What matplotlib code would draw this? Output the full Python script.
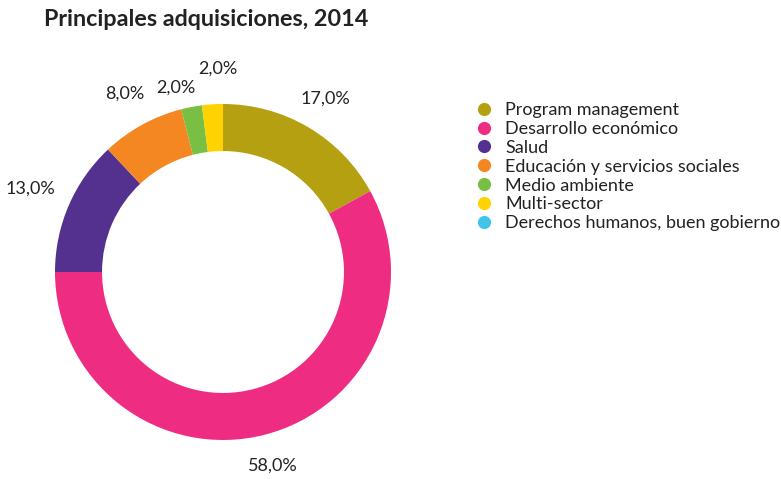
import numpy as np
import matplotlib.pyplot as plt
from matplotlib.lines import Line2D

# data
sectores = ["Program management", "Desarrollo económico", "Salud",
            "Educación y servicios sociales", "Medio ambiente", "Multi-sector",
            "Derechos humanos, buen gobierno"]
porcentajes = [17.0, 58.0, 13.0, 8.0, 2.0, 2.0, 0.0]
colores = ["#B5A012", "#EE2D82", "#55318F", "#F58722", "#79BF43", "#FFD200", "#3FC5E8"]

plt.rcParams['font.family'] = ['Lato', 'DejaVu Sans']

W, H = 781, 479
fig = plt.figure(figsize=(W / 100, H / 100), dpi=100)

# donut center ~(223, 272) px, radius ~168 px
cx, cy, r = 223, 272, 168
ax = fig.add_axes([(cx - r) / W, (H - cy - r) / H, 2 * r / W, 2 * r / H])

wedges, _ = ax.pie(porcentajes, colors=colores, startangle=90, counterclock=False,
                   radius=1, wedgeprops=dict(width=0.28, linewidth=0))
ax.set_xlim(-1, 1)
ax.set_ylim(-1, 1)
ax.set_aspect('equal')
ax.axis('off')

# label distance / angle shift per slice (small slices pushed apart)
dist = [1.2, 1.19, 1.25, 1.21, 1.13, 1.21, 1.2]
shift = [0, 0, 0, 0, 3.5, -2.2, 0]

for w, p, d, s in zip(wedges, porcentajes, dist, shift):
    if p <= 0:
        continue
    ang = np.deg2rad((w.theta1 + w.theta2) / 2 + s)
    ax.text(d * np.cos(ang), d * np.sin(ang), f"{p:.1f}".replace('.', ',') + "%",
            ha='center', va='center', fontsize=13, color='#222222')

fig.text(44 / W, 1 - 20 / H, "Principales adquisiciones, 2014", fontsize=16.8,
         fontweight='bold', color='#222222', ha='left', va='center')

handles = [Line2D([], [], marker='o', linestyle='none', markersize=9.5,
                  markerfacecolor=c, markeredgewidth=0) for c in colores]
fig.legend(handles, sectores, loc='upper left', bbox_to_anchor=(476 / W, 1 - 102 / H),
           frameon=False, fontsize=13, handlelength=0.9, handletextpad=0.72,
           labelspacing=0.16, borderpad=0, borderaxespad=0, labelcolor='#222222')

fig.savefig("out.png", dpi=100)
